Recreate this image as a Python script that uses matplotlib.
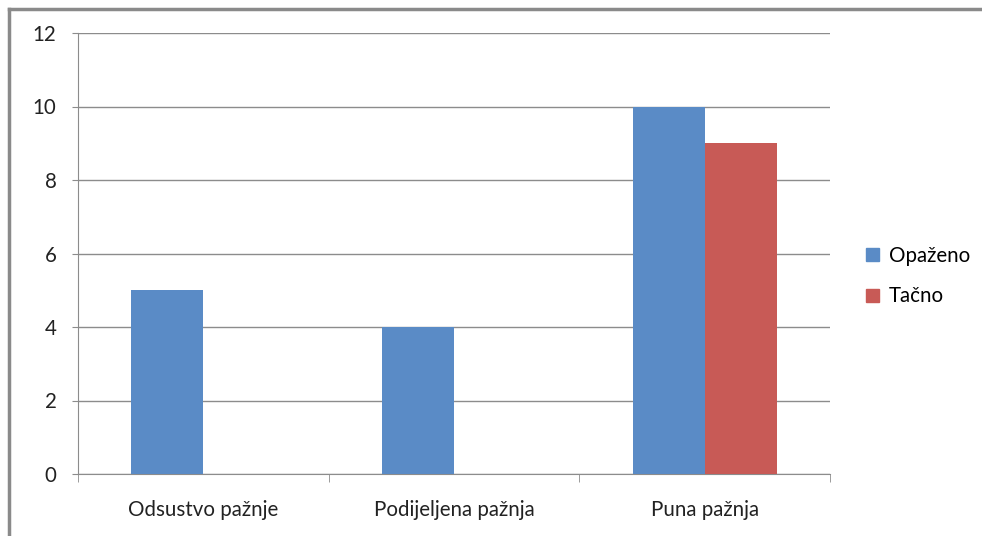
import matplotlib
matplotlib.use('Agg')
import matplotlib.pyplot as plt
import numpy as np
from matplotlib.patches import Patch

plt.rcParams['font.family'] = ['Lato', 'DejaVu Sans']

categories = ['Odsustvo pažnje', 'Podijeljena pažnja', 'Puna pažnja']
opazeno = [5, 4, 10]
tacno = [0, 0, 9]
yticks = [0, 2, 4, 6, 8, 10, 12]

blue = '#5a8bc6'
red = '#c85a56'
grid_c = '#8c8c8c'
fontsize = 14.8

fig = plt.figure(figsize=(9.82, 5.36), dpi=100)
ax = fig.add_axes([78/982, 1-474/536, (830-78)/982, (474-33)/536])

x = np.arange(len(categories))
w = 0.287
ax.bar(x - w/2, opazeno, width=w, color=blue, label='Opaženo', zorder=3)
ax.bar(x + w/2, tacno, width=w, color=red, label='Tačno', zorder=3)

ax.set_xlim(-0.5, 2.5)
ax.set_ylim(0, 12)
ax.set_yticks(yticks)
ax.tick_params(axis='y', labelsize=fontsize, colors=grid_c, labelcolor='#222222', length=4.5, pad=11)
ax.yaxis.grid(True, color=grid_c, linewidth=1, zorder=0)

ax.set_xticks(x)
ax.set_xticklabels(categories, fontsize=fontsize, color='#222222')
ax.tick_params(axis='x', length=0, pad=19)
ax.set_xticks([-0.5, 0.5, 1.5, 2.5], minor=True)
ax.tick_params(axis='x', which='minor', length=5.5, color=grid_c)

for s in ['top', 'right']:
    ax.spines[s].set_visible(False)
ax.spines['left'].set_color(grid_c)
ax.spines['bottom'].set_color(grid_c)

handles = [Patch(color=blue, label='Opaženo'), Patch(color=red, label='Tačno')]
fig.legend(handles=handles, loc='center left', bbox_to_anchor=(856/982, 1-276/536),
           frameon=False, fontsize=fontsize, handlelength=0.6, handleheight=0.6,
           handletextpad=0.5, labelspacing=1.0, borderpad=0)

# outer frame (only left and top edges visible in the crop)
fig.add_artist(plt.Line2D([9/982, 9/982], [0, 1-9/536], color='#8a8a8a', linewidth=2.5))
fig.add_artist(plt.Line2D([9/982, 1], [1-9/536, 1-9/536], color='#8a8a8a', linewidth=2.5))

fig.savefig('out.png', dpi=100, facecolor='white')
